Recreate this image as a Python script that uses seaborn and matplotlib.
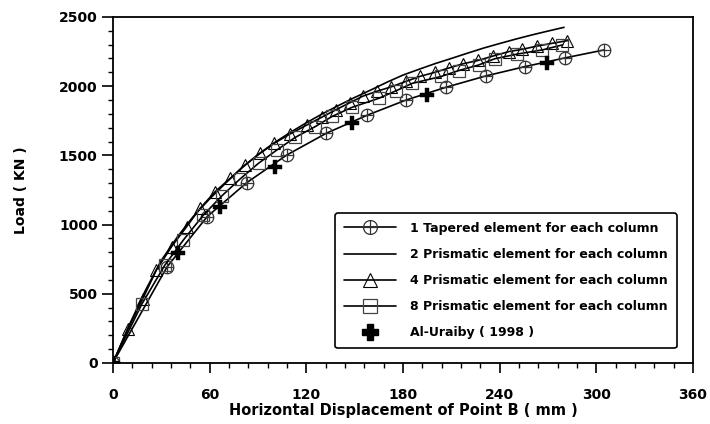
import numpy as np
import pandas as pd
import matplotlib
matplotlib.use("Agg")
import matplotlib.pyplot as plt
from matplotlib.path import Path
from matplotlib.ticker import MultipleLocator
from matplotlib.lines import Line2D
import seaborn as sns

# ---- data ----
tap_x = [0, 33.6, 58.5, 83, 108, 132.5, 157.8, 182, 206.7, 231.5, 256, 280.5, 305]
tap_y = [0, 694, 1057, 1302, 1503, 1660, 1790, 1900, 1992, 2074, 2142, 2204, 2262]

p2_x = [0, 10, 20, 30, 40, 50, 60, 70, 80, 90, 100, 110, 120, 130, 140, 150, 160,
        170, 180, 190, 200, 210, 220, 230, 240, 250, 260, 270, 280]
p2_y = [0, 270, 520, 740, 910, 1060, 1185, 1300, 1410, 1505, 1590, 1665, 1735, 1800,
        1860, 1918, 1972, 2028, 2080, 2122, 2163, 2200, 2238, 2275, 2308, 2340, 2370,
        2398, 2425]

p4_x = [0, 9.3, 18.6, 27, 36.4, 45.8, 54.1, 63.4, 72.8, 82.1, 91.4, 100.1, 110, 120.5,
        129.5, 138.5, 147, 155, 163.8, 172.5, 182, 190.7, 199.8, 208.7, 217.4, 226.7,
        236, 245.8, 254, 263.4, 272.8, 282.1]
p4_y = [0, 245, 465, 672, 840, 985, 1117, 1237, 1334, 1431, 1515, 1587, 1655, 1720,
        1775, 1830, 1880, 1927, 1963, 1994, 2035, 2071, 2100, 2132, 2162, 2186, 2218,
        2250, 2266, 2290, 2310, 2329]

p8_x = [0, 18, 32.3, 43.8, 56.2, 67.6, 79, 90.4, 101.8, 113.2, 125.6, 136, 148.4, 165,
        176, 185.7, 203.7, 214.7, 227, 237, 251, 266.6, 279]
p8_y = [0, 426, 708, 889, 1069, 1207, 1330, 1443, 1539, 1630, 1708, 1781, 1847, 1912,
        1968, 2020, 2070, 2113, 2153, 2198, 2232, 2262, 2298]

exp_x = [0, 40.6, 66.5, 100.7, 148.4, 195, 269.7]
exp_y = [0, 792, 1125, 1418, 1731, 1936, 2170]

labels = ["1 Tapered element for each column",
          "2 Prismatic element for each column",
          "4 Prismatic element for each column",
          "8 Prismatic element for each column",
          "Al-Uraiby ( 1998 )"]

x_ticks = [0, 60, 120, 180, 240, 300, 360]
y_ticks = [0, 500, 1000, 1500, 2000, 2500]

# ---- style ----
sns.set_theme(style="white")
plt.rcParams['font.family'] = ['DejaVu Sans']
plt.rcParams['font.weight'] = 'bold'
plt.rcParams['text.color'] = 'black'
plt.rcParams['axes.labelcolor'] = 'black'
plt.rcParams['xtick.color'] = 'black'
plt.rcParams['ytick.color'] = 'black'

fig = plt.figure(figsize=(7.1, 4.24), dpi=100)
ax = fig.add_axes([0.159, 0.144, 0.817, 0.816])

# circle with plus marker
circ = Path.unit_circle()
hline = Path([[-1, 0], [1, 0]], [Path.MOVETO, Path.LINETO])
vline = Path([[0, -1], [0, 1]], [Path.MOVETO, Path.LINETO])
oplus = Path.make_compound_path(circ, hline, vline)

lw = 1.2
sns.lineplot(x=tap_x, y=tap_y, ax=ax, color='black', lw=lw, marker=oplus,
             markersize=9, markerfacecolor='none', markeredgecolor='#333333',
             markeredgewidth=0.9, sort=False, estimator=None)
sns.lineplot(x=p2_x, y=p2_y, ax=ax, color='black', lw=lw, sort=False, estimator=None)
sns.lineplot(x=p4_x, y=p4_y, ax=ax, color='black', lw=lw, marker='^',
             markersize=9, markerfacecolor='none', markeredgecolor='black',
             markeredgewidth=0.8, sort=False, estimator=None)
sns.lineplot(x=p8_x, y=p8_y, ax=ax, color='black', lw=lw, marker='s',
             markersize=9, markerfacecolor='none', markeredgecolor='#444444',
             markeredgewidth=0.9, sort=False, estimator=None)
sns.scatterplot(x=exp_x, y=exp_y, ax=ax, color='black', marker='P', s=95,
                edgecolor='black', linewidth=0.3, zorder=5)

ax.set_xlim(0, 360)
ax.set_ylim(0, 2500)
ax.set_xticks(x_ticks)
ax.set_yticks(y_ticks)
ax.xaxis.set_minor_locator(MultipleLocator(12))
ax.yaxis.set_minor_locator(MultipleLocator(100))
ax.tick_params(axis='x', which='major', direction='out', length=7, width=1.2,
               pad=11, labelsize=10, colors='black', bottom=True)
ax.tick_params(axis='x', which='minor', direction='out', length=3.5, width=1.0,
               bottom=True)
ax.tick_params(axis='y', which='major', direction='out', length=8, width=1.2,
               pad=3, labelsize=10, colors='black', left=True)
ax.tick_params(axis='y', which='minor', direction='out', length=3.5, width=1.0,
               left=True)
for lab in ax.get_xticklabels() + ax.get_yticklabels():
    lab.set_fontweight('bold')
for sp in ax.spines.values():
    sp.set_color('black')
    sp.set_linewidth(1.3)

ax.set_xlabel("Horizontal Displacement of Point B ( mm )", fontsize=10.5,
              fontweight='bold', labelpad=1, color='black')
ax.set_ylabel("Load ( KN )", fontsize=10, fontweight='bold', labelpad=22,
              color='black')

handles = [
    Line2D([], [], color='black', lw=lw, marker=oplus, markersize=10,
           markerfacecolor='none', markeredgecolor='#333333', markeredgewidth=0.9),
    Line2D([], [], color='black', lw=lw),
    Line2D([], [], color='black', lw=lw, marker='^', markersize=10,
           markerfacecolor='none', markeredgecolor='black', markeredgewidth=0.8),
    Line2D([], [], color='black', lw=lw, marker='s', markersize=10,
           markerfacecolor='none', markeredgecolor='#444444', markeredgewidth=0.9),
    Line2D([], [], color='black', lw=0, marker='P', markersize=11,
           markerfacecolor='black', markeredgecolor='black'),
]
leg = ax.legend(handles, labels, loc='lower right', bbox_to_anchor=(0.972, 0.043),
                prop={'weight': 'bold', 'size': 9}, handlelength=4.2,
                labelspacing=1.05, handletextpad=1.1, borderpad=0.7,
                frameon=True, fancybox=True, borderaxespad=0, labelcolor='black')
fr = leg.get_frame()
fr.set_edgecolor('black')
fr.set_linewidth(1.2)
fr.set_alpha(1)

fig.savefig("out.png", dpi=100)
